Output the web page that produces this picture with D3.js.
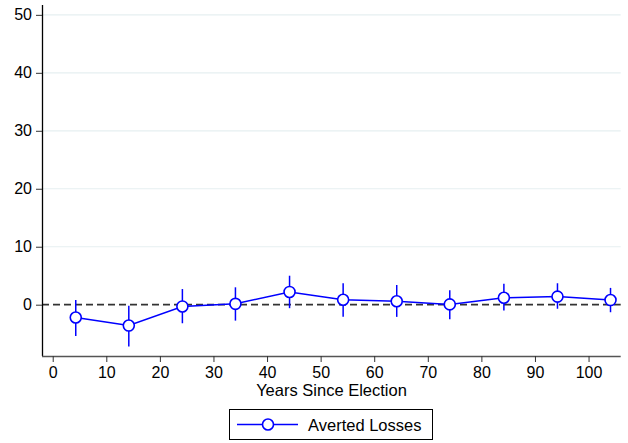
<!DOCTYPE html>
<html><head><meta charset="utf-8">
<script src="https://cdn.jsdelivr.net/npm/d3@7"></script>
<style>body{margin:0;background:#fff}svg{display:block}text{font-family:"Liberation Sans",Arial,sans-serif}</style>
</head><body><svg id="c" width="628" height="443"></svg>
<script>
const years = [4.3, 14.2, 24.2, 34.1, 44.2, 54.2, 64.2, 74.1, 84.2, 94.2, 104.1];
const estimate = [-2.2, -3.6, -0.3, 0.15, 2.2, 0.85, 0.6, 0.05, 1.2, 1.4, 0.8];
const ciLow = [-5.4, -7.2, -3.2, -2.75, -0.6, -2.1, -2.1, -2.5, -1.0, -0.7, -1.3];
const ciHigh = [0.8, -0.2, 2.7, 3.0, 5.0, 3.7, 3.4, 2.5, 3.6, 3.7, 2.9];
const xTicks = [0,10,20,30,40,50,60,70,80,90,100];
const yTicks = [0,10,20,30,40,50];
const seriesName = "Averted Losses";
const xTitle = "Years Since Election";

const svg = d3.select("#c");
const x = d3.scaleLinear().domain([-2, 106]).range([42, 620.7]);
const y = d3.scaleLinear().domain([-8.85, 51.7]).range([356, 5]);
const blue = "#0000ff";

// gridlines
svg.append("g").selectAll("line").data(yTicks.filter(d=>d!==0)).join("line")
  .attr("x1", 42).attr("x2", 620.7).attr("y1", d=>y(d)).attr("y2", d=>y(d))
  .attr("stroke", "#e6eff1").attr("stroke-width", 1.2);

// zero dashed line
svg.append("line").attr("x1", 42).attr("x2", 620.7).attr("y1", y(0)).attr("y2", y(0))
  .attr("stroke", "#333").attr("stroke-width", 1.8).attr("stroke-dasharray", "7,4");

// axes
const ya = svg.append("g").attr("transform", "translate(42,0)")
  .call(d3.axisLeft(y).tickValues(yTicks).tickSize(6).tickPadding(4).tickFormat(d3.format("d")));
ya.select(".domain").attr("d", `M0.5,${y.range()[1]}V${y.range()[0]}`).attr("stroke","#000").attr("stroke-width",1.3);
const xa = svg.append("g").attr("transform", `translate(0,${y.range()[0]})`)
  .call(d3.axisBottom(x).tickValues(xTicks).tickSize(6).tickPadding(5).tickFormat(d3.format("d")));
xa.select(".domain").attr("d", `M${x.range()[0]},0.5H${x.range()[1]}`).attr("stroke","#555").attr("stroke-width",1.3);
svg.selectAll(".tick line").attr("stroke", "#333");
svg.selectAll(".tick text").attr("font-size", 16).attr("fill", "#000").attr("font-family", '"Liberation Sans",Arial,sans-serif');

svg.append("text").attr("x", 331.5).attr("y", 396).attr("text-anchor", "middle")
  .attr("font-size", 16.5).text(xTitle);

const data = years.map((d,i)=>({x:d, e:estimate[i], lo:ciLow[i], hi:ciHigh[i]}));

// CIs
svg.append("g").selectAll("line").data(data).join("line")
  .attr("x1", d=>x(d.x)).attr("x2", d=>x(d.x)).attr("y1", d=>y(d.lo)).attr("y2", d=>y(d.hi))
  .attr("stroke", blue).attr("stroke-width", 1.5);

// connecting line
svg.append("path").datum(data).attr("fill","none").attr("stroke", blue).attr("stroke-width", 1.5)
  .attr("d", d3.line().x(d=>x(d.x)).y(d=>y(d.e)));

svg.append("g").selectAll("circle").data(data).join("circle")
  .attr("cx", d=>x(d.x)).attr("cy", d=>y(d.e)).attr("r", 5.5)
  .attr("fill", "#fff").attr("stroke", blue).attr("stroke-width", 1.6);

// legend
const lg = svg.append("g");
lg.append("rect").attr("x", 229.5).attr("y", 409.5).attr("width", 203).attr("height", 30)
  .attr("fill", "#fff").attr("stroke", "#000").attr("stroke-width", 1);
lg.append("line").attr("x1", 237).attr("x2", 298).attr("y1", 424.5).attr("y2", 424.5)
  .attr("stroke", blue).attr("stroke-width", 1.5);
lg.append("circle").attr("cx", 268).attr("cy", 424.5).attr("r", 5.5)
  .attr("fill", "#fff").attr("stroke", blue).attr("stroke-width", 1.6);
lg.append("text").attr("x", 308).attr("y", 430.5).attr("font-size", 16.5).text(seriesName);
</script></body></html>
